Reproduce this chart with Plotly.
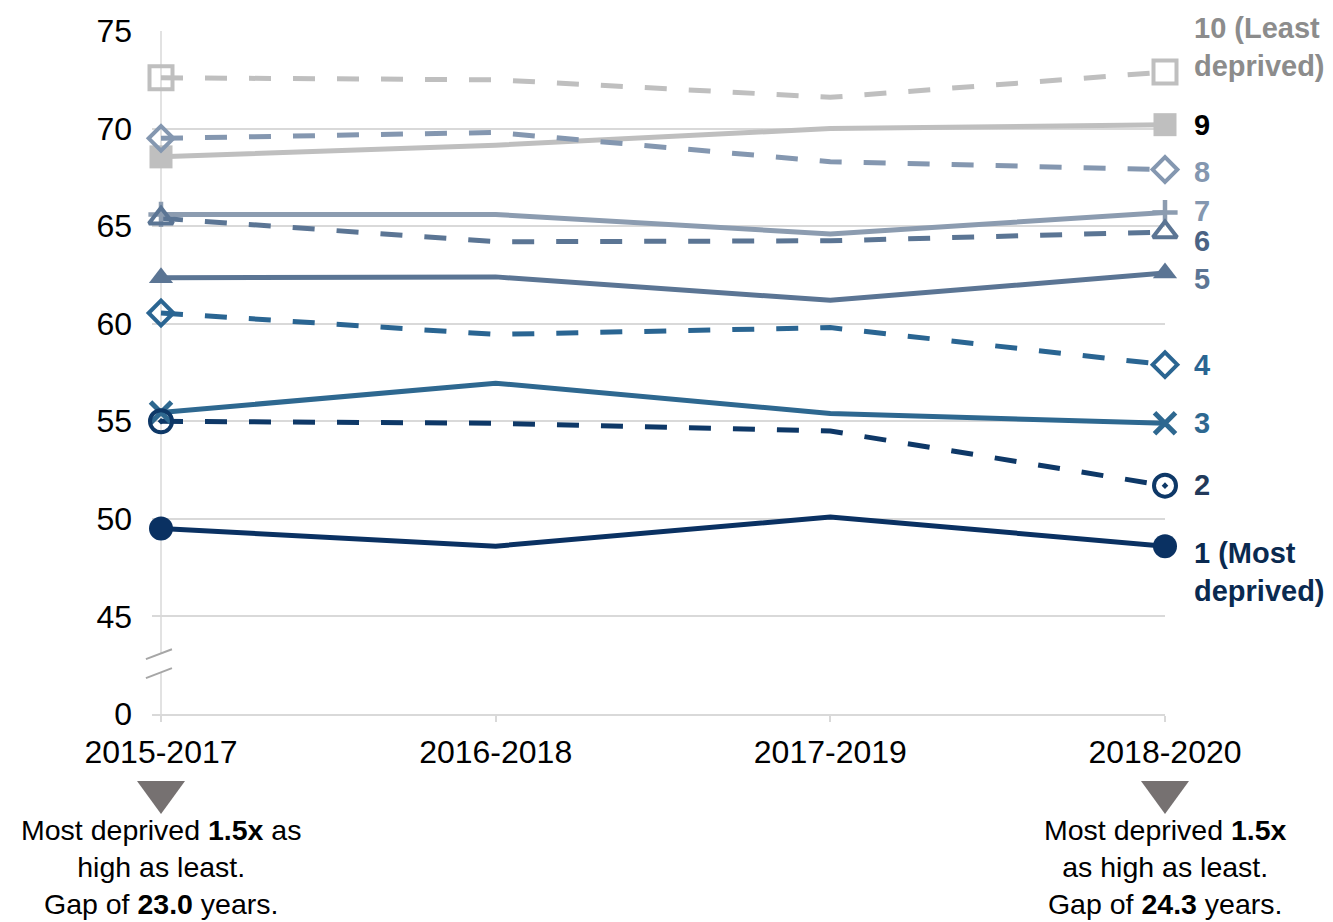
import plotly.graph_objects as go

# ---------------- data ----------------
periods = ["2015-2017", "2016-2018", "2017-2019", "2018-2020"]

q10 = [72.6, 72.5, 71.6, 72.9]
q9 = [68.55, 69.15, 70.0, 70.2]
q8 = [69.5, 69.8, 68.3, 67.9]
q7 = [65.6, 65.6, 64.6, 65.7]
q6 = [65.4, 64.2, 64.25, 64.7]
q5 = [62.35, 62.4, 61.2, 62.6]
q4 = [60.55, 59.45, 59.8, 57.9]
q3 = [55.45, 56.95, 55.4, 54.9]
q2 = [55.0, 54.9, 54.5, 51.7]
q1 = [49.5, 48.6, 50.1, 48.6]

series_names = ["10 (Least<br>deprived)", "9", "8", "7", "6", "5", "4", "3", "2", "1 (Most<br>deprived)"]
series_values = [q10, q9, q8, q7, q6, q5, q4, q3, q2, q1]

y_tickvals = [40, 45, 50, 55, 60, 65, 70, 75]
y_ticktext = ["0", "45", "50", "55", "60", "65", "70", "75"]

left_note = "Most deprived <b>1.5x</b> as<br>high as least.<br>Gap of <b>23.0</b> years."
right_note = "Most deprived <b>1.5x</b><br>as high as least.<br>Gap of <b>24.3</b> years."

# ---------------- styles ----------------
line_colors = ["#BFBFBF", "#BFBFBF", "#8497B0", "#8C9CB0", "#5B7594",
               "#5B7594", "#2A6592", "#2E6890", "#0E3867", "#0A3162"]
label_colors = ["#8C8C8C", "#000000", "#8497B0", "#8497B0", "#4B6384",
                "#5B7594", "#2A6592", "#2E6890", "#22395A", "#0A2A50"]
dashes = ["22px,22px", "solid", "22px,22px", "solid", "22px,22px",
          "solid", "22px,22px", "solid", "22px,22px", "solid"]
symbols = ["square-open", "square", "diamond-open", "cross-thin-open", "triangle-up-open",
           "triangle-up", "diamond-open", "x-thin-open", "circle-open-dot", "circle"]
msizes = [23, 23, 19, 18, 21, 21, 19, 21, 22, 24]
mline = [4, 0, 4, 4.5, 4, 0, 4, 5, 4, 0]
label_y = [74.2, 70.19, 67.78, 65.79, 64.25, 62.31, 57.86, 54.89, 51.71, 47.3]

FONT = "Arial, Liberation Sans, sans-serif"

X_RANGE = [-0.0269, 3.0]

fig = go.Figure()

for name, vals, lc, dash in zip(series_names, series_values, line_colors, dashes):
    fig.add_trace(go.Scatter(
        x=periods, y=vals, mode="lines", name=name,
        line=dict(color=lc, width=5, dash=dash),
        cliponaxis=False, showlegend=False, hoverinfo="skip"))

for name, vals, lc, sym, ms, mlw in zip(series_names, series_values, line_colors, symbols, msizes, mline):
    fig.add_trace(go.Scatter(
        x=[periods[0], periods[-1]], y=[vals[0], vals[-1]], mode="markers", name=name,
        marker=dict(symbol=sym, size=ms, color=lc, line=dict(color=lc, width=mlw)),
        cliponaxis=False, showlegend=False, hoverinfo="skip"))

annotations = []
for name, ly, tc in zip(series_names, label_y, label_colors):
    annotations.append(dict(
        x=1.0267, xref="paper", y=ly, yref="y", text="<b>" + name + "</b>",
        showarrow=False, xanchor="left", yanchor="middle", align="left",
        font=dict(family=FONT, size=29, color=tc)))

for per, note in [(periods[0], left_note), (periods[-1], right_note)]:
    annotations.append(dict(
        x=per, xref="x", y=-0.3035, yref="paper", text=note, showarrow=False,
        xanchor="center", yanchor="bottom", align="center", borderpad=0,
        font=dict(family=FONT, size=28.5, color="#000000")))

shapes = []
# vertical axis line at the first period
shapes.append(dict(type="line", xref="x", yref="paper", x0=0, x1=0, y0=0, y1=1,
                   line=dict(color="#D9D9D9", width=1.5), layer="below"))
# axis break marker
shapes.append(dict(type="path", xref="paper", yref="y",
                   path="M -0.006,42.81 L 0.0197,43.32 L 0.0197,42.35 L -0.006,41.84 Z",
                   fillcolor="white", line=dict(width=0), layer="above"))
shapes.append(dict(type="line", xref="paper", yref="y", x0=-0.006, y0=42.81, x1=0.0197, y1=43.32,
                   line=dict(color="#A6A6A6", width=2)))
shapes.append(dict(type="line", xref="paper", yref="y", x0=-0.006, y0=41.84, x1=0.0197, y1=42.35,
                   line=dict(color="#A6A6A6", width=2)))
# downward triangles under first / last period labels
for idx in [0, len(periods) - 1]:
    cx = (idx - X_RANGE[0]) / (X_RANGE[1] - X_RANGE[0])
    hw = 0.0237
    shapes.append(dict(type="path", xref="paper", yref="paper",
                       path=f"M {cx - hw},-0.0981 L {cx + hw},-0.0981 L {cx},-0.1464 Z",
                       fillcolor="#767171", line=dict(width=0)))

# the page adds an 8px body margin, so the figure is drawn 8px smaller
fig.update_layout(
    width=1325, height=914,
    margin=dict(l=144, r=168, t=23, b=208, autoexpand=False),
    plot_bgcolor="white", paper_bgcolor="white",
    font=dict(family=FONT, color="#000000"),
    xaxis=dict(type="category", range=X_RANGE, showgrid=False, zeroline=False,
               showline=True, linecolor="#D9D9D9", linewidth=1.5,
               ticks="outside", ticklen=6, tickcolor="#D9D9D9", tickwidth=1.5,
               ticklabelstandoff=3, automargin=False,
               tickfont=dict(family=FONT, size=32, color="#000000")),
    yaxis=dict(range=[40, 75], tickvals=y_tickvals, ticktext=y_ticktext,
               showgrid=True, gridcolor="#D9D9D9", gridwidth=1.5, zeroline=False,
               showline=False, ticks="", ticklabelstandoff=19, automargin=False,
               tickfont=dict(family=FONT, size=32, color="#000000")),
    annotations=annotations, shapes=shapes,
)

fig.write_html("out.html")
